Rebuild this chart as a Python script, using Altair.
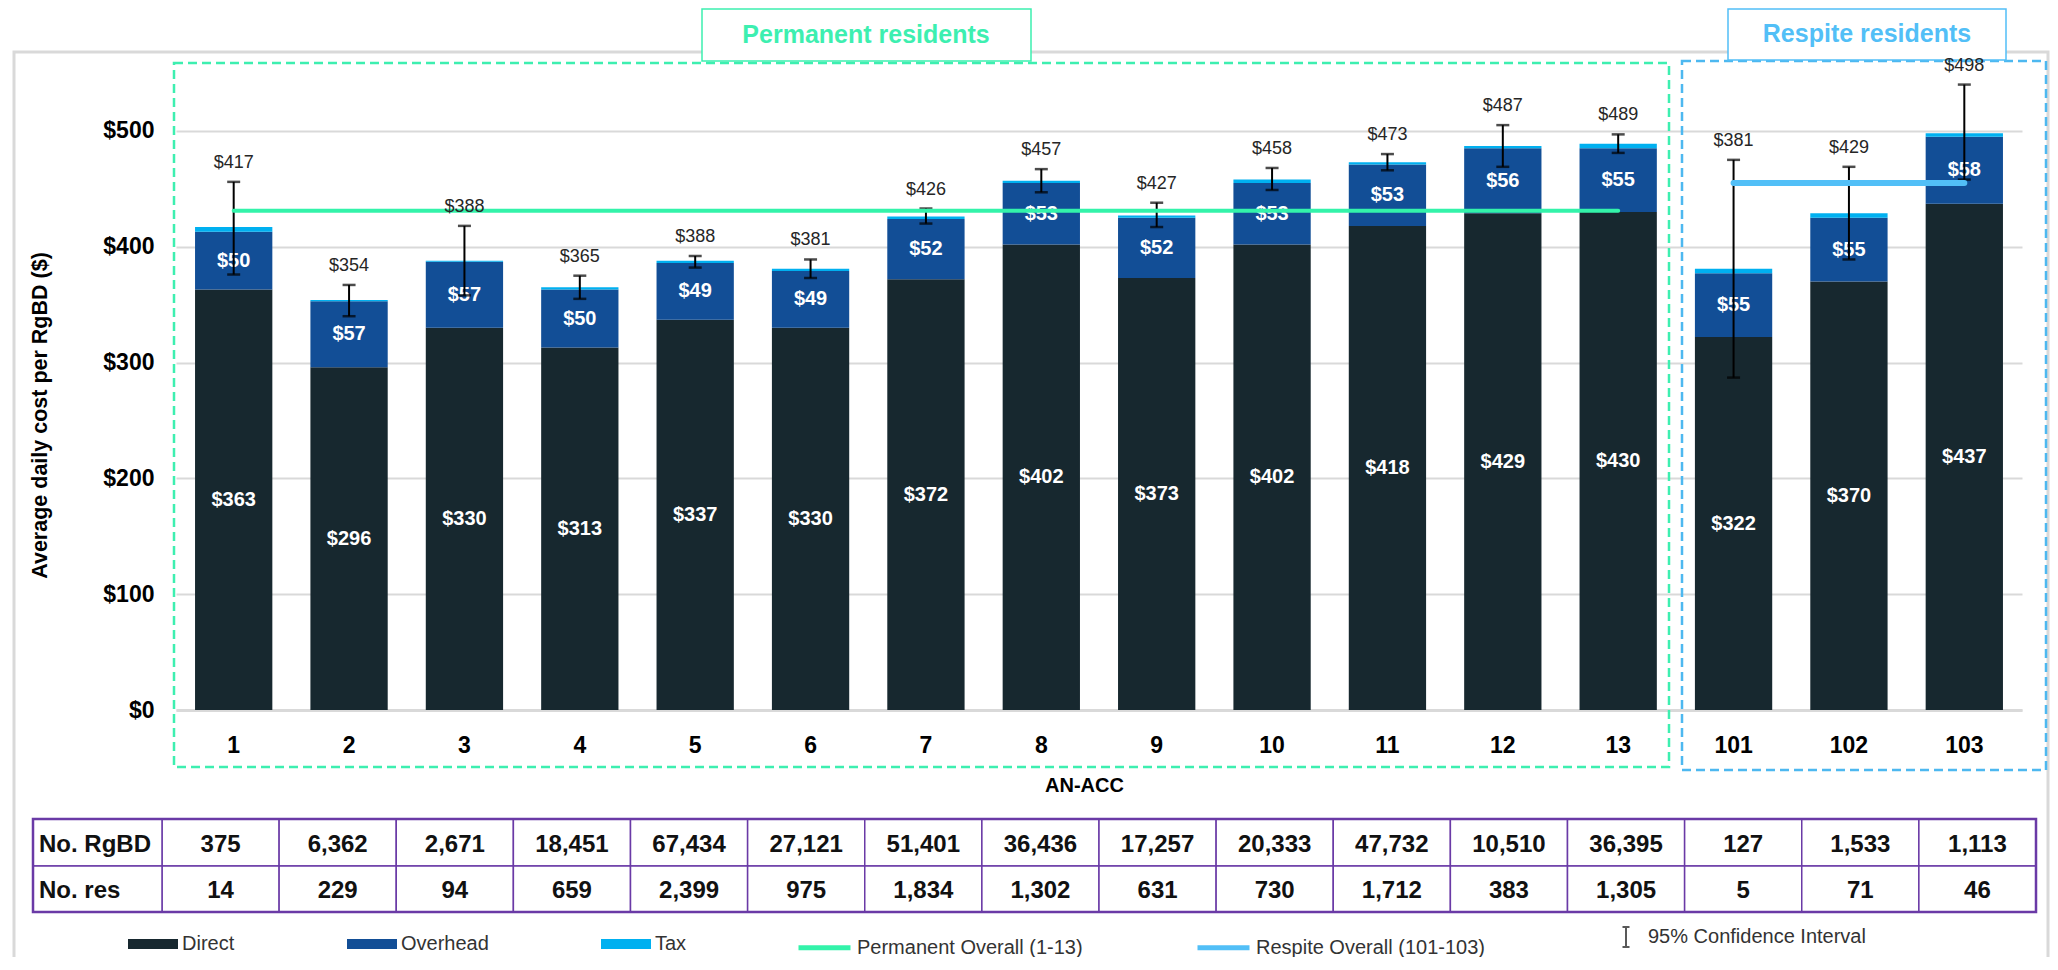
import altair as alt
import pandas as pd

# ---------------- data ----------------
categories = ["1", "2", "3", "4", "5", "6", "7", "8", "9", "10", "11", "12", "13", "101", "102", "103"]
direct = [363, 296, 330, 313, 337, 330, 372, 402, 373, 402, 418, 429, 430, 322, 370, 437]
overhead = [50, 57, 57, 50, 49, 49, 52, 53, 52, 53, 53, 56, 55, 55, 55, 58]
tax = [4, 1, 1, 2, 2, 2, 2, 2, 2, 3, 2, 2, 4, 4, 4, 3]
total = [417, 354, 388, 365, 388, 381, 426, 457, 427, 458, 473, 487, 489, 381, 429, 498]
ci_lower = [376, 340, 358, 355, 382, 373, 420, 447, 417, 449, 466, 469, 481, 287, 389, 458]
ci_upper = [456, 367, 418, 375, 392, 389, 433, 467, 438, 468, 480, 505, 497, 475, 469, 540]
permanent_overall = 431
respite_overall = 455
permanent_cats = ["1", "13"]
respite_cats = ["101", "103"]
no_rgbd = [375, 6362, 2671, 18451, 67434, 27121, 51401, 36436, 17257, 20333, 47732, 10510, 36395, 127, 1533, 1113]
no_res = [14, 229, 94, 659, 2399, 975, 1834, 1302, 631, 730, 1712, 383, 1305, 5, 71, 46]
components = ["Direct", "Overhead", "Tax"]
line_series = ["Permanent Overall (1-13)", "Respite Overall (101-103)"]
ci_label = "95% Confidence Interval"

# ---------------- styles ----------------
FONT = "Liberation Sans, Arial, sans-serif"
C_DIRECT, C_OVER, C_TAX = "#17282F", "#124E96", "#00B0F0"
C_PERM, C_RESP = "#33F3AA", "#52BFF7"
PURPLE = "#6A3AA6"
GRID = "#D9D9D9"

# segments
rows = []
for i, c in enumerate(categories):
    base = 0
    for comp, vals in zip(components, [direct, overhead, tax]):
        v = vals[i]
        rows.append({"cat": c, "comp": comp, "value": v, "y0": base, "y1": base + v,
                     "mid": base + v / 2, "ord": components.index(comp)})
        base += v
seg = pd.DataFrame(rows)

tot = pd.DataFrame({"cat": categories, "total": total, "lo": ci_lower, "hi": ci_upper,
                    "rgbd": no_rgbd, "res": no_res})

perm_df = pd.DataFrame({"cat": permanent_cats, "v": [permanent_overall] * 2, "s": [line_series[0]] * 2})
resp_df = pd.DataFrame({"cat": respite_cats, "v": [respite_overall] * 2, "s": [line_series[1]] * 2})
ci_df = pd.DataFrame({"cat": [categories[0]], "k": [ci_label]})
one = pd.DataFrame({"a": [0]})

xscale = alt.Scale(domain=categories, paddingInner=0.33, paddingOuter=0.165)
yscale = alt.Scale(domain=[0, 550], nice=False, zero=True)
tscale = alt.Scale(domain=categories, range=[-14, 1860], paddingInner=0, paddingOuter=0)
color_scale = alt.Scale(domain=components, range=[C_DIRECT, C_OVER, C_TAX])
stroke_scale = alt.Scale(domain=line_series, range=[C_PERM, C_RESP])

YTITLE = "Average daily cost per RgBD ($)"
Y_AXIS = alt.Axis(title=YTITLE, values=[0, 100, 200, 300, 400, 500],
                  labelExpr="'$' + format(datum.value, ',')", labelFont=FONT, labelFontSize=23,
                  labelFontWeight="bold", labelColor="#000", labelPadding=22, ticks=False, domain=False,
                  grid=True, gridColor=GRID, gridWidth=2,
                  titleFont=FONT, titleFontSize=21.5, titleFontWeight="bold", titleColor="#000",
                  titleX=-136, titleY=342, titleAngle=270, titleAlign="center", titleBaseline="middle")


def yenc(field):
    return alt.Y(field, scale=yscale, axis=Y_AXIS, title=YTITLE)


xnoax = lambda: alt.X("cat:N", scale=xscale, axis=None)
LEG_LABEL = dict(labelFont=FONT, labelFontSize=20, labelColor="#333", labelLimit=0, padding=0)
LEG_Y = 846

# ---------------- decorations ----------------
frame = alt.Chart(one).mark_rect(fillOpacity=0, stroke=GRID, strokeWidth=3).encode(
    x=alt.value(-162), x2=alt.value(1872), y=alt.value(-21), y2=alt.value(1000))

green_box = alt.Chart(one).mark_rect(fillOpacity=0, stroke="#3DEFB0", strokeWidth=2.5, strokeDash=[9, 5]).encode(
    x=alt.value(-2), x2=alt.value(1493), y=alt.value(-10), y2=alt.value(694))
blue_box = alt.Chart(one).mark_rect(fillOpacity=0, stroke="#4DB8F0", strokeWidth=2.5, strokeDash=[9, 5]).encode(
    x=alt.value(1506), x2=alt.value(1870), y=alt.value(-12), y2=alt.value(697))

perm_title_box = alt.Chart(one).mark_rect(fill="white", stroke="#3DEFB0", strokeWidth=1.5).encode(
    x=alt.value(526), x2=alt.value(855), y=alt.value(-64), y2=alt.value(-12))
perm_title = alt.Chart(one).mark_text(text="Permanent residents", font=FONT, fontSize=25, fontWeight="bold",
                                       color="#3DEFB0", align="center", baseline="middle").encode(
    x=alt.value(690), y=alt.value(-38))
resp_title_box = alt.Chart(one).mark_rect(fill="white", stroke="#52BFF7", strokeWidth=1.5).encode(
    x=alt.value(1552), x2=alt.value(1830), y=alt.value(-64), y2=alt.value(-13))
resp_title = alt.Chart(one).mark_text(text="Respite residents", font=FONT, fontSize=25, fontWeight="bold",
                                       color="#52BFF7", align="center", baseline="middle").encode(
    x=alt.value(1691), y=alt.value(-39))

# ---------------- bars ----------------
bars = alt.Chart(seg).mark_bar().encode(
    x=alt.X("cat:N", scale=xscale, sort=categories,
            axis=alt.Axis(title="AN-ACC", labelAngle=0, labelFont=FONT, labelFontSize=23, labelFontWeight="bold",
                          labelColor="#000", labelPadding=24, ticks=False, domainColor=GRID, domainWidth=3,
                          titleFont=FONT, titleFontSize=20, titleFontWeight="bold", titleColor="#000",
                          titleX=908, titleY=75, titleAlign="center", titleBaseline="middle")),
    y=yenc("y0:Q"),
    y2="y1:Q",
    color=alt.Color("comp:N", scale=color_scale,
                    legend=alt.Legend(orient="none", legendX=-48, legendY=LEG_Y, direction="horizontal", title=None,
                                      symbolType="M-1,-0.2H1V0.2H-1Z", symbolSize=2500, symbolStrokeWidth=0,
                                      columnPadding=112, labelOffset=4, **LEG_LABEL)),
    order=alt.Order("ord:Q"),
)

seg_labels = alt.Chart(seg).transform_filter("datum.comp != 'Tax'").mark_text(
    font=FONT, fontSize=20, fontWeight="bold", color="white", baseline="middle").encode(
    x=xnoax(), y=yenc("mid:Q"), text=alt.Text("value:Q", format="$,.0f"))

err_rule = alt.Chart(tot).mark_rule(color="#000", strokeWidth=2).encode(
    x=xnoax(), y=yenc("lo:Q"), y2="hi:Q")
err_lo = alt.Chart(tot).mark_tick(color="#000", orient="horizontal", size=13, thickness=2.5).encode(
    x=xnoax(), y=yenc("lo:Q"))
err_hi = alt.Chart(tot).mark_tick(color="#000", orient="horizontal", size=13, thickness=2.5).encode(
    x=xnoax(), y=yenc("hi:Q"))

line_legend = alt.Legend(orient="none", legendX=620, legendY=LEG_Y, direction="horizontal", title=None,
                         symbolType="M-1,0H1", symbolSize=2704, symbolStrokeWidth=5,
                         columnPadding=104, labelOffset=4, **LEG_LABEL)
perm_line = alt.Chart(perm_df).mark_line(strokeWidth=4, strokeCap="round").encode(
    x=xnoax(), y=yenc("v:Q"),
    stroke=alt.Stroke("s:N", scale=stroke_scale, legend=line_legend))
resp_line = alt.Chart(resp_df).mark_line(strokeWidth=6, strokeCap="round").encode(
    x=xnoax(), y=yenc("v:Q"),
    stroke=alt.Stroke("s:N", scale=stroke_scale, legend=line_legend))

ci_key = alt.Chart(ci_df).mark_point(filled=False, opacity=0, color="#595959", strokeWidth=2).encode(
    x=xnoax(), y=alt.value(0),
    shape=alt.Shape("k:N", scale=alt.Scale(domain=[ci_label], range=["M0,-1V1M-0.35,-1H0.35M-0.35,1H0.35"]),
                    legend=alt.Legend(orient="none", legendX=1439, legendY=LEG_Y + 7, title=None, symbolSize=400,
                                      symbolOpacity=1, symbolStrokeColor="#595959", symbolStrokeWidth=2,
                                      labelOffset=11, **LEG_LABEL)))

tot_labels = alt.Chart(tot).mark_text(font=FONT, fontSize=18, color="#262626", baseline="bottom", dy=-10).encode(
    x=xnoax(), y=yenc("hi:Q"), text=alt.Text("total:Q", format="$,.0f"))

# ---------------- table ----------------
tx = lambda: alt.X("cat:N", scale=tscale, axis=None)
cell1 = alt.Chart(tot).mark_rect(fill="white", stroke=PURPLE, strokeWidth=1.5).encode(
    x=tx(), y=alt.value(746), y2=alt.value(793))
cell2 = alt.Chart(tot).mark_rect(fill="white", stroke=PURPLE, strokeWidth=1.5).encode(
    x=tx(), y=alt.value(793), y2=alt.value(839))
head1 = alt.Chart(one).mark_rect(fill="white", stroke=PURPLE, strokeWidth=1.5).encode(
    x=alt.value(-143), x2=alt.value(-14), y=alt.value(746), y2=alt.value(793))
head2 = alt.Chart(one).mark_rect(fill="white", stroke=PURPLE, strokeWidth=1.5).encode(
    x=alt.value(-143), x2=alt.value(-14), y=alt.value(793), y2=alt.value(839))
border = alt.Chart(one).mark_rect(fillOpacity=0, stroke=PURPLE, strokeWidth=2.5).encode(
    x=alt.value(-143), x2=alt.value(1860), y=alt.value(746), y2=alt.value(839))
t_style = dict(font=FONT, fontSize=24, fontWeight="bold", color="#111", baseline="middle")
txt1 = alt.Chart(tot).mark_text(**t_style, dy=2).encode(
    x=tx(), y=alt.value(769.5), text=alt.Text("rgbd:Q", format=","))
txt2 = alt.Chart(tot).mark_text(**t_style, dy=2).encode(
    x=tx(), y=alt.value(816), text=alt.Text("res:Q", format=","))
h1 = alt.Chart(one).mark_text(text="No. RgBD", align="left", dy=2, **t_style).encode(
    x=alt.value(-137), y=alt.value(769.5))
h2 = alt.Chart(one).mark_text(text="No. res", align="left", dy=2, **t_style).encode(
    x=alt.value(-137), y=alt.value(816))

chart = alt.layer(
    frame, green_box, blue_box, perm_title_box, perm_title, resp_title_box, resp_title,
    bars, seg_labels, err_rule, err_lo, err_hi, perm_line, resp_line, tot_labels, ci_key,
    cell1, cell2, head1, head2, border, txt1, txt2, h1, h2,
).resolve_scale(x="independent").properties(
    width=1846, height=637,
    autosize=alt.AutoSizeParams(type="none"),
    padding={"left": 168, "top": 65, "right": 28, "bottom": 247},
    background="white",
).configure_view(stroke=None)

chart.save("out.html", embed_options={"renderer": "svg", "actions": False})
